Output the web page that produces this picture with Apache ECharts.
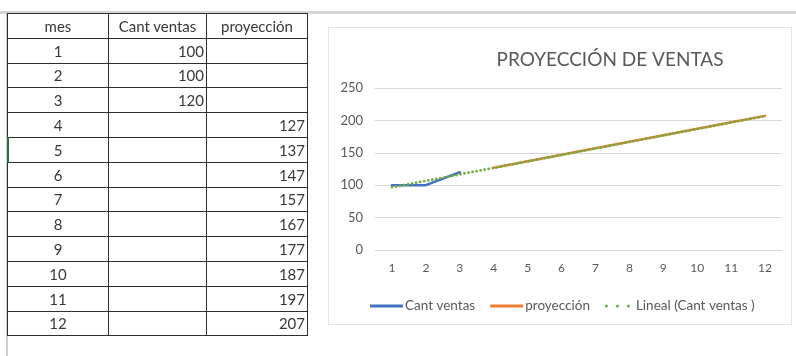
<!DOCTYPE html>
<html>
<head>
<meta charset="utf-8">
<script src="https://cdn.jsdelivr.net/npm/echarts@6/dist/echarts.min.js"></script>
<style>
  html, body { margin: 0; padding: 0; background: #fff; }
  #page { position: relative; width: 796px; height: 356px; overflow: hidden; font-family: Lato, "Liberation Sans", sans-serif; }
  #topbar { position: absolute; left: 0; top: 11px; width: 796px; height: 3px; background: #d6d6d6; }
  #leftbar { position: absolute; left: 6px; top: 11px; width: 2px; height: 345px; background: #cfcfcf; }
  #sel { position: absolute; left: 7px; top: 137px; width: 2px; height: 26px; background: #217346; z-index: 3; }
  #sheet { position: absolute; left: 7px; top: 13px; border-collapse: collapse; table-layout: fixed; z-index: 2; }
  #sheet td { border: 1px solid #2e2e2e; height: 23.8px; padding: 0 2px; font-size: 15px; color: #383838; line-height: 20px; white-space: nowrap; overflow: hidden; }
  #sheet tr:first-child td { border-top-color: #cfcfcf; height: 25px; font-size: 16px; }
  #sheet td.c { text-align: center; }
  #sheet td.r { text-align: right; }
  #chart { position: absolute; left: 0; top: 0; width: 796px; height: 356px; z-index: 1; }
</style>
</head>
<body>
<div id="page">
  <div id="topbar"></div>
  <div id="leftbar"></div>
  <table id="sheet"></table>
  <div id="sel"></div>
  <div id="chart"></div>
</div>
<script>
// Worksheet columns
const headers = ['mes', 'Cant ventas', 'proyección'];
const meses = [1, 2, 3, 4, 5, 6, 7, 8, 9, 10, 11, 12];
const cantVentas = [100, 100, 120, null, null, null, null, null, null, null, null, null];
const proyeccion = [null, null, null, 127, 137, 147, 157, 167, 177, 187, 197, 207];
// Linear trend of "Cant ventas", forecast through month 12
const tendencia = [96.7, 106.7, 116.7, 126.7, 136.7, 146.7, 156.7, 166.7, 176.7, 186.7, 196.7, 206.7];
const yTicks = [0, 50, 100, 150, 200, 250];
const colWidths = [101, 98, 101];

// Build the sheet table
const table = document.getElementById('sheet');
const colgroup = document.createElement('colgroup');
colWidths.forEach(w => { const c = document.createElement('col'); c.style.width = w + 'px'; colgroup.appendChild(c); });
table.appendChild(colgroup);
const head = document.createElement('tr');
headers.forEach(h => { const td = document.createElement('td'); td.className = 'c'; td.textContent = h; head.appendChild(td); });
table.appendChild(head);
meses.forEach((m, i) => {
  const tr = document.createElement('tr');
  const a = document.createElement('td'); a.className = 'c'; a.textContent = m;
  const b = document.createElement('td'); b.className = 'r'; b.textContent = cantVentas[i] == null ? '' : cantVentas[i];
  const c = document.createElement('td'); c.className = 'r'; c.textContent = proyeccion[i] == null ? '' : proyeccion[i];
  tr.appendChild(a); tr.appendChild(b); tr.appendChild(c);
  table.appendChild(tr);
});

// Legend keys: solid bar for the data series, three round dots for the trend
const dotsIcon = 'path://M0,1.5a1.5,1.5 0 1,0 3,0a1.5,1.5 0 1,0 -3,0M11,1.5a1.5,1.5 0 1,0 3,0a1.5,1.5 0 1,0 -3,0M22,1.5a1.5,1.5 0 1,0 3,0a1.5,1.5 0 1,0 -3,0';

const chart = echarts.init(document.getElementById('chart'), null, { renderer: 'canvas' });
const font = 'Lato, "Liberation Sans", sans-serif';
chart.setOption({
  backgroundColor: 'transparent',
  animation: false,
  graphic: [{
    type: 'rect',
    shape: { x: 328.5, y: 27.5, width: 463, height: 297 },
    style: { fill: '#fff', stroke: '#e3e3e3', lineWidth: 1 },
    z: -10
  }],
  title: {
    text: 'PROYECCIÓN DE VENTAS',
    left: 605,
    textAlign: 'center',
    top: 45,
    textStyle: { fontFamily: font, fontSize: 19, fontWeight: 'normal', color: '#595959' }
  },
  legend: {
    left: 365,
    top: 294,
    itemWidth: 33,
    itemHeight: 3,
    itemGap: 15,
    textStyle: { fontFamily: font, fontSize: 13.5, color: '#595959', padding: [0, 0, 0, -3] },
    data: [
      { name: 'Cant ventas', icon: 'rect' },
      { name: 'proyección', icon: 'rect' },
      { name: 'Lineal (Cant ventas )', icon: dotsIcon }
    ]
  },
  grid: { left: 375, right: 14, top: 88, bottom: 106 },
  xAxis: {
    type: 'category',
    data: meses.map(String),
    boundaryGap: true,
    axisLine: { show: true, lineStyle: { color: '#d9d9d9' } },
    axisTick: { show: false },
    axisLabel: { margin: 12, fontFamily: font, fontSize: 12, color: '#595959' }
  },
  yAxis: {
    type: 'value',
    min: yTicks[0],
    max: yTicks[yTicks.length - 1],
    interval: 50,
    axisLine: { show: false },
    axisTick: { show: false },
    axisLabel: { margin: 12, fontFamily: font, fontSize: 13, color: '#595959' },
    splitLine: { lineStyle: { color: '#d9d9d9', width: 1 } }
  },
  series: [
    {
      name: 'Cant ventas', type: 'line', data: cantVentas, symbol: 'none',
      itemStyle: { color: '#4472C4' },
      lineStyle: { color: '#4472C4', width: 2.5, cap: 'round', join: 'round' }, z: 2
    },
    {
      name: 'proyección', type: 'line', data: proyeccion, symbol: 'none',
      itemStyle: { color: '#ED7D31' },
      lineStyle: { color: '#ED7D31', width: 2.5, cap: 'round', join: 'round' }, z: 3
    },
    {
      name: 'Lineal (Cant ventas )', type: 'line', data: tendencia, symbol: 'none',
      itemStyle: { color: '#70AD47' },
      lineStyle: { color: '#70AD47', width: 2.8, type: [0.1, 4], cap: 'round' }, z: 4
    }
  ]
});
</script>
</body>
</html>
